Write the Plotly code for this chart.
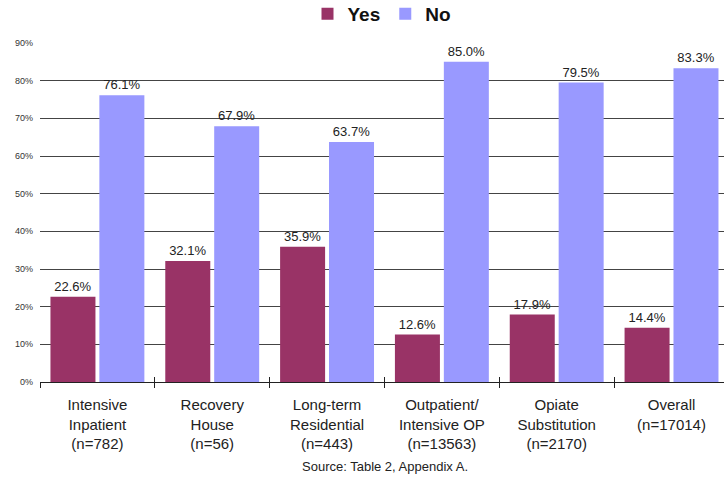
import plotly.graph_objects as go

categories = [
    "Intensive<br>Inpatient<br>(n=782)",
    "Recovery<br>House<br>(n=56)",
    "Long-term<br>Residential<br>(n=443)",
    "Outpatient/<br>Intensive OP<br>(n=13563)",
    "Opiate<br>Substitution<br>(n=2170)",
    "Overall<br>(n=17014)",
]
yes_pct = [22.6, 32.1, 35.9, 12.6, 17.9, 14.4]
no_pct = [76.1, 67.9, 63.7, 85.0, 79.5, 83.3]
y_ticks = [0, 10, 20, 30, 40, 50, 60, 70, 80, 90]

label_font = dict(family="Liberation Sans, Arial, sans-serif", size=13, color="#222222")

fig = go.Figure()
fig.add_trace(go.Bar(
    name="Yes", x=categories, y=[v / 100 for v in yes_pct],
    marker=dict(color="#993366", line=dict(width=0)),
    text=[f"{v:.1f}%" for v in yes_pct], textposition="outside",
    textfont=label_font, cliponaxis=False,
))
fig.add_trace(go.Bar(
    name="No", x=categories, y=[v / 100 for v in no_pct],
    marker=dict(color="#9999FF", line=dict(width=0)),
    text=[f"{v:.1f}%" for v in no_pct], textposition="outside",
    textfont=label_font, cliponaxis=False,
))
# empty companion trace so the upper half of the boundary ticks can be drawn
fig.add_trace(go.Scatter(
    x=categories, y=[None] * len(categories), xaxis="x2", yaxis="y",
    showlegend=False, hoverinfo="skip", mode="markers",
))

# the last group runs slightly past the right edge of the canvas
x_range = [-0.5, 5.457]

fig.update_layout(
    width=724, height=478,
    margin=dict(l=40, r=0, t=43, b=96, autoexpand=False),
    paper_bgcolor="white", plot_bgcolor="white",
    barmode="group", bargap=0.148, bargroupgap=0.08,
    font=dict(family="Liberation Sans, Arial, sans-serif", color="#222222"),
    legend=dict(
        orientation="h", x=0.5, xanchor="center", y=1.086, yanchor="middle",
        font=dict(size=19, color="#111111", family="Liberation Sans, Arial, sans-serif", weight="bold"),
        itemsizing="constant", itemwidth=30, traceorder="normal",
    ),
    showlegend=True,
    annotations=[dict(
        text="Source: Table 2, Appendix A.", xref="paper", yref="paper",
        x=0.505, y=-0.25, xanchor="center", yanchor="middle", showarrow=False,
        font=dict(size=13, color="#222222"),
    )],
    xaxis=dict(
        type="category", range=x_range, showgrid=False, showline=True,
        linecolor="#222222", linewidth=1,
        ticks="outside", tickson="boundaries", ticklen=5, tickcolor="#222222",
        tickfont=dict(size=15, color="#222222"), ticklabelstandoff=9,
    ),
    xaxis2=dict(
        type="category", range=x_range, overlaying="x", anchor="y", side="bottom",
        showgrid=False, showline=False, ticks="inside", tickson="boundaries",
        ticklen=5, tickcolor="#222222", showticklabels=False,
    ),
    yaxis=dict(
        range=[0, 0.9], tickvals=[v / 100 for v in y_ticks],
        ticktext=[f"{v}%" for v in y_ticks],
        showgrid=True, gridcolor="#444444", gridwidth=1, zeroline=False,
        showline=False, ticks="", ticklabelstandoff=6,
        tickfont=dict(size=9, color="#333333"),
    ),
)

fig.write_html("out.html")
